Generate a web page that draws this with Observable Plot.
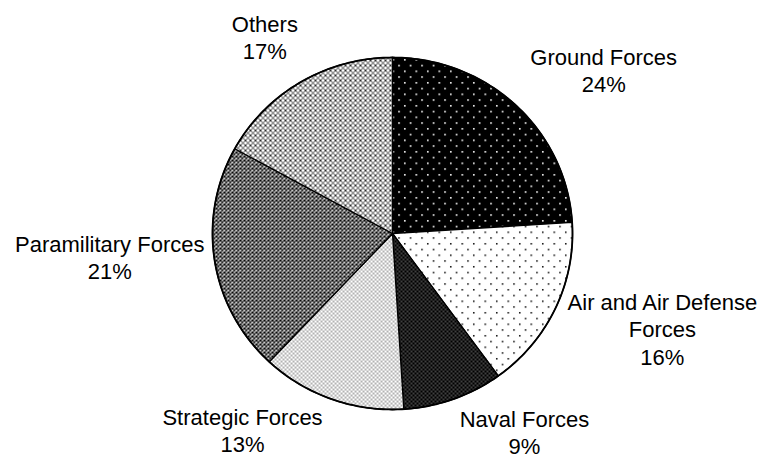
<!DOCTYPE html>
<html>
<head>
<meta charset="utf-8">
<script src="https://cdn.jsdelivr.net/npm/d3@7"></script>
<script src="https://cdn.jsdelivr.net/npm/@observablehq/plot@0.6"></script>
<style>
  html, body { margin: 0; padding: 0; background: #fff; }
  #chart svg { display: block; }
</style>
</head>
<body>
<div id="chart"></div>
<script>
// ---- data ----
const categories = ["Ground Forces", "Air and Air Defense Forces", "Naval Forces", "Strategic Forces", "Paramilitary Forces", "Others"];
const labels = ["Ground Forces", "Air and Air Defense\nForces", "Naval Forces", "Strategic Forces", "Paramilitary Forces", "Others"];
const shares = [24, 16, 9, 13, 21, 17];

// ---- layout (styling only) ----
const patternIds = ["p-ground", "p-air", "p-naval", "p-strategic", "p-para", "p-others"];
const labelNudge = [[88, -60], [107, -18], [71, 8], [-89, 6], [-105, -29], [-36, -70]];

const total = d3.sum(shares);
let cum = 0;
const slices = shares.map((v, i) => {
  const a0 = cum / total * 2 * Math.PI;
  cum += v;
  const a1 = cum / total * 2 * Math.PI;
  return {i, cat: categories[i], value: v, a0, a1, mid: (a0 + a1) / 2};
});

// polygon points for each slice (angle measured clockwise from 12 o'clock)
const pts = [];
for (const s of slices) {
  pts.push({i: s.i, x: 0, y: 0});
  const n = Math.max(2, Math.ceil((s.a1 - s.a0) / (Math.PI / 180)));
  for (let k = 0; k <= n; k++) {
    const a = s.a0 + (s.a1 - s.a0) * k / n;
    pts.push({i: s.i, x: Math.sin(a), y: Math.cos(a)});
  }
}

const cx = 392, cy = 233, rx = 180, ry = 176;

const marks = slices.map(s => Plot.line(pts.filter(p => p.i === s.i), {
  x: "x", y: "y", curve: "linear-closed",
  fill: `url(#${patternIds[s.i]})`, stroke: "#000", strokeWidth: 1.3, strokeLinejoin: "round"
}));

marks.push(Plot.line(d3.range(0, 361).map(a => ({x: Math.sin(a * Math.PI / 180), y: Math.cos(a * Math.PI / 180)})), {
  x: "x", y: "y", curve: "linear-closed", fill: "none", stroke: "#000", strokeWidth: 1.8
}));

slices.forEach(s => {
  marks.push(Plot.text([s], {
    x: d => Math.sin(d.mid), y: d => Math.cos(d.mid),
    text: d => `${labels[d.i]}\n${d.value}%`,
    dx: labelNudge[s.i][0], dy: labelNudge[s.i][1],
    textAnchor: "middle", lineAnchor: "top", lineHeight: 1.25,
    fontSize: 22, fill: "#000"
  }));
});

const chart = Plot.plot({
  width: 765, height: 460,
  marginTop: 0, marginRight: 0, marginBottom: 0, marginLeft: 0,
  style: {fontFamily: "'Liberation Sans', Arial, Helvetica, sans-serif", background: "#fff"},
  x: {domain: [-1, 1], range: [cx - rx, cx + rx], axis: null},
  y: {domain: [-1, 1], range: [cy + ry, cy - ry], axis: null},
  marks
});

// SVG patterns
const defs = `
<defs>
  <pattern id="p-ground" patternUnits="userSpaceOnUse" width="11.5" height="11.5">
    <rect width="11.5" height="11.5" fill="#000"/>
    <rect x="1" y="1" width="1.6" height="1.6" fill="#fff"/>
    <rect x="6.75" y="6.75" width="1.6" height="1.6" fill="#fff"/>
  </pattern>
  <pattern id="p-air" patternUnits="userSpaceOnUse" width="11.5" height="11.5">
    <rect width="11.5" height="11.5" fill="#fff"/>
    <rect x="1" y="1" width="1.5" height="1.5" fill="#000"/>
    <rect x="6.75" y="6.75" width="1.5" height="1.5" fill="#000"/>
  </pattern>
  <pattern id="p-naval" patternUnits="userSpaceOnUse" width="4" height="4">
    <rect width="4" height="4" fill="#000"/>
    <rect x="0.5" y="0.5" width="1" height="1" fill="#fff"/>
    <rect x="2.5" y="2.5" width="1" height="1" fill="#fff"/>
  </pattern>
  <pattern id="p-strategic" patternUnits="userSpaceOnUse" width="4" height="4">
    <rect width="4" height="4" fill="#fff"/>
    <rect x="0.5" y="0.5" width="1.1" height="1.1" fill="#000"/>
    <rect x="2.5" y="2.5" width="1.1" height="1.1" fill="#000"/>
  </pattern>
  <pattern id="p-para" patternUnits="userSpaceOnUse" width="4" height="4">
    <rect width="4" height="4" fill="#fff"/>
    <path d="M-1,-1L5,5M5,-1L-1,5" stroke="#000" stroke-width="1.2"/>
  </pattern>
  <pattern id="p-others" patternUnits="userSpaceOnUse" width="5" height="5">
    <rect width="5" height="5" fill="#fff"/>
    <path d="M-1,-1L6,6M6,-1L-1,6" stroke="#222" stroke-width="0.95"/>
  </pattern>
</defs>`;
chart.insertAdjacentHTML("afterbegin", defs);

document.getElementById("chart").appendChild(chart);
</script>
</body>
</html>
